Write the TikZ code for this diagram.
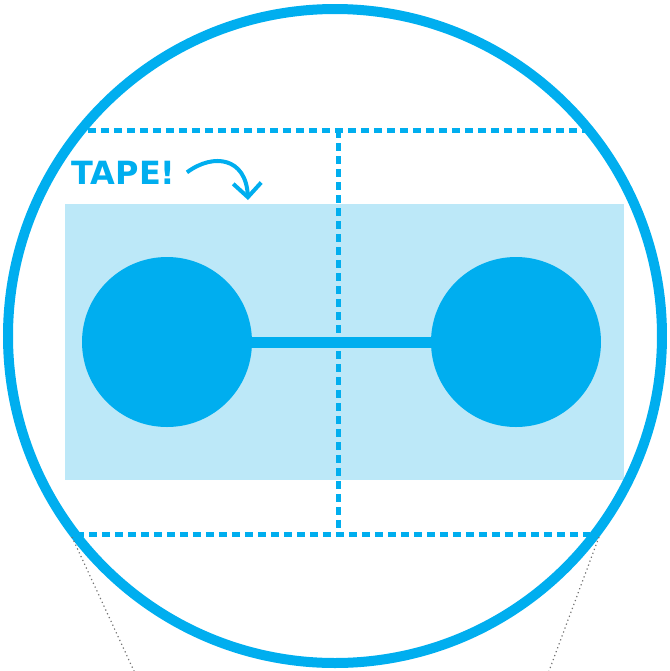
\documentclass[tikz,border=0pt]{standalone}
\usepackage{fontspec}
\newfontfamily\tapefont{DejaVu Sans}
\usetikzlibrary{arrows.meta}
\definecolor{tapeblue}{HTML}{00AEEF}
\definecolor{tapelight}{HTML}{BCE8F8}

\begin{document}
\begin{tikzpicture}[x=0.1mm,y=-0.1mm,line width=0.5mm]
\tikzset{ring/.style={draw=tapeblue,line width=1mm},
  guide/.style={draw=tapeblue,line width=0.5mm,dash pattern=on 0.8mm off 0.5mm},
  knob/.style={circle,fill=tapeblue,inner sep=0pt,outer sep=0pt,minimum size=17mm},
  bar/.style={draw=tapeblue,line width=1.1mm},
  zoomline/.style={draw=black!55,line width=0.12mm,dash pattern=on 0.12mm off 0.3mm},
  note/.style={text=tapeblue,font=\tapefont\bfseries\fontsize{9.1}{10}\selectfont,inner sep=0pt,anchor=base west},
  pointer/.style={draw=tapeblue,line width=0.4mm,-{Straight Barb[length=1.4mm,width=2.8mm]}}}
\useasboundingbox (0,0) rectangle (670,671);
% ================= tape strip =================
\fill[tapelight] (65,204) rectangle (624,480);
% ================= cut guides =================
\coordinate (gTL) at (88,130);
\coordinate (gTR) at (586,130);
\coordinate (gBL) at (76,534);
\coordinate (gBR) at (590,534);
\coordinate (gMT) at (339,130);
\coordinate (gMB) at (339,534);
\draw[guide] (gTL) -- (gTR);
\draw[guide] (gBL) -- (gBR);
\draw[guide] (gMT) -- (gMB);
% ================= two pads and the link =================
\node[knob] (left) at (167,342) {};
\node[knob] (right) at (516,342) {};
\draw[bar] (left) -- (right);
% ================= label with pointer =================
\node[note] (tape) at (69,184) {TAPE!};
\coordinate (tip) at (248,200);
\draw[pointer] ([xshift=0.9mm]tape.east) .. controls +(27,-20) and +(-2,-42) .. (tip);
% ================= magnifier ring =================
\draw[ring] (335,336) circle[radius=327];
% zoom lines down to the detail
\coordinate (zL) at (72,537);
\coordinate (zLb) at (134,671);
\coordinate (zR) at (599,537);
\coordinate (zRb) at (549,671);
\draw[zoomline] (zL) -- (zLb);
\draw[zoomline] (zR) -- (zRb);
\end{tikzpicture}
\end{document}
